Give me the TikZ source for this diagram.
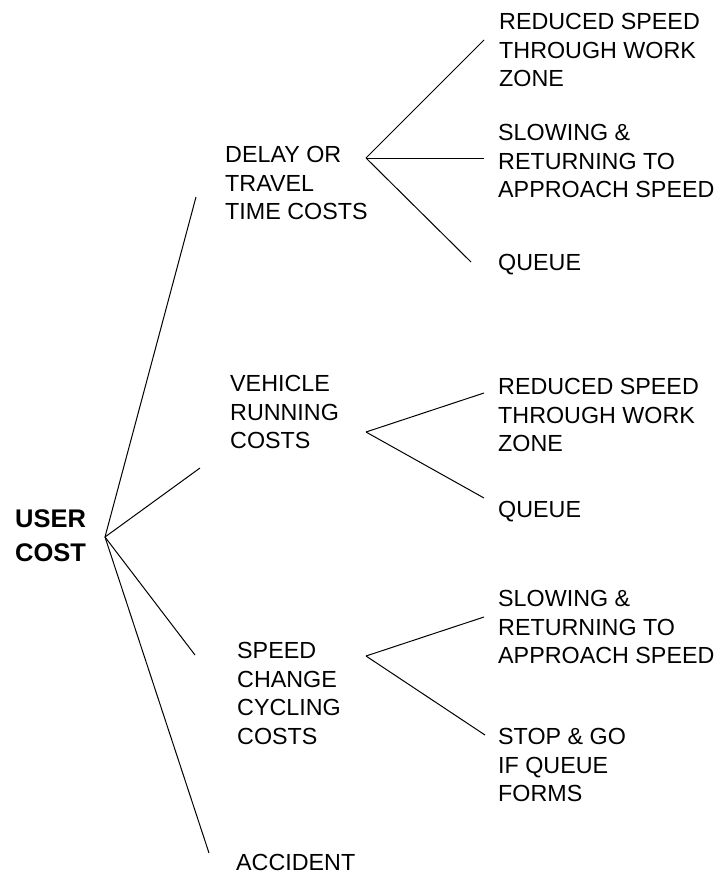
\documentclass[tikz,border=0pt]{standalone}
\usepackage{fontspec}
\setmainfont{Liberation Sans}
\begin{document}
\begin{tikzpicture}[x=1pt,y=-1pt,
  lbl/.style={anchor=north west,inner sep=0pt,align=left,font=\fontsize{23.3}{28.5}\selectfont},
  rootlbl/.style={anchor=north west,inner sep=0pt,align=left,font=\fontsize{25.5}{34}\selectfont\bfseries},
  conn/.style={draw=black,line width=1pt}]
\useasboundingbox (0,0) rectangle (722,876);
% labels (y = first baseline - 16.5)
\node[rootlbl] (user) at (15,509) {USER\\COST};
\node[lbl] (delay) at (225,146.5) {DELAY OR\\TRAVEL\\TIME COSTS};
\node[lbl] (vehicle) at (230,375.5) {VEHICLE\\RUNNING\\COSTS};
\node[lbl] (speed) at (237,642.5) {SPEED\\CHANGE\\CYCLING\\COSTS};
\node[lbl] (accident) at (236,854) {ACCIDENT};
\node[lbl] (d1) at (499,13.5) {REDUCED SPEED\\THROUGH WORK\\ZONE};
\node[lbl] (d2) at (498,124.5) {SLOWING \&\\RETURNING TO\\APPROACH SPEED};
\node[lbl] (d3) at (498,254.5) {QUEUE};
\node[lbl] (v1) at (498,378.5) {REDUCED SPEED\\THROUGH WORK\\ZONE};
\node[lbl] (v2) at (498,501.5) {QUEUE};
\node[lbl] (s1) at (498,590.5) {SLOWING \&\\RETURNING TO\\APPROACH SPEED};
\node[lbl] (s2) at (498,728.5) {STOP \& GO\\IF QUEUE\\FORMS};
% connector points
\coordinate (root) at (105,537);
\coordinate (rd) at (196,197);
\coordinate (rv) at (200,468);
\coordinate (rs) at (195,655);
\coordinate (ra) at (209,853);
\coordinate (hd) at (366,158);
\coordinate (hd1) at (484,40);
\coordinate (hd2) at (484,158);
\coordinate (hd3) at (471,262);
\coordinate (hv) at (366,432);
\coordinate (hv1) at (484,393);
\coordinate (hv2) at (484,498);
\coordinate (hs) at (366,656);
\coordinate (hs1) at (484,617);
\coordinate (hs2) at (485,735);
\draw[conn] (root) -- (rd);
\draw[conn] (root) -- (rv);
\draw[conn] (root) -- (rs);
\draw[conn] (root) -- (ra);
\draw[conn] (hd) -- (hd1);
\draw[conn] (hd) -- (hd2);
\draw[conn] (hd) -- (hd3);
\draw[conn] (hv) -- (hv1);
\draw[conn] (hv) -- (hv2);
\draw[conn] (hs) -- (hs1);
\draw[conn] (hs) -- (hs2);
\end{tikzpicture}
\end{document}
